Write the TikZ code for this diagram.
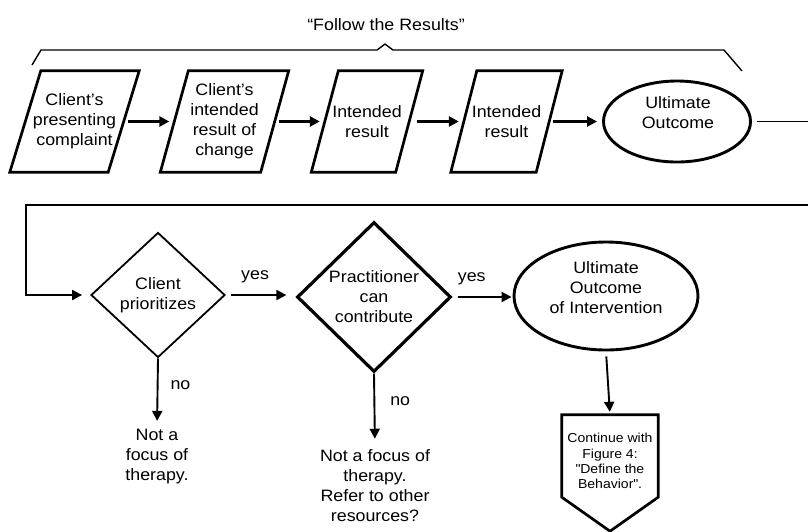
\documentclass[tikz,border=0pt]{standalone}
\usepackage{fontspec}
\setmainfont{Liberation Sans}[FakeStretch=1.08]
\usetikzlibrary{shapes.geometric,arrows.meta,calc}

\begin{document}
\begin{tikzpicture}[x=1pt,y=-1pt,
  every node/.style={font=\fontsize{16.5}{20}\selectfont, align=center, inner sep=0pt},
  para/.style={minimum width=#1, minimum height=101},
  box/.style={line width=2.7pt, line join=miter},
  ell/.style={ellipse, draw, line width=2.9pt},
  dia/.style={diamond, draw, line join=miter},
  tip/.style={-{Triangle[length=10pt,width=10pt]}},
  flow/.style={tip, line width=2.7pt, shorten <=4pt, shorten >=5pt},
  link/.style={tip, line width=1.9pt},
  small/.style={font=\fontsize{13}{15.3}\selectfont}
]
\useasboundingbox (0,0) rectangle (808,531);
\clip (0,0) rectangle (808,531);

% heading and its brace
\node (title) at (386,25) {``Follow the Results''};
\draw[line width=1.4pt, line join=round]
  (32,65) -- (41,50) -- (377,50) -- (385,44) -- (393,50) -- (724,50) -- (742,71);

% top row: results chain
\node[para=98]  (p1) at (74.5,121.5) {Client’s\\presenting\\complaint};
\node[para=100] (p2) at (224.5,121.5) {Client’s\\intended\\result of\\change};
\node[para=84]  (p3) at (367,121.5) {Intended\\result};
\node[para=85]  (p4) at (506.5,121.5) {Intended\\result};
\foreach \n/\s in {p1/15.5,p2/14,p3/13.5,p4/13}
  \draw[box] ([xshift=\s pt]\n.north west) -- ([xshift=\s pt]\n.north east)
    -- ([xshift=-\s pt]\n.south east) -- ([xshift=-\s pt]\n.south west) -- cycle;

\node[ell, minimum width=147, minimum height=81] (u1) at (677,121.5) {};
\node (u1text) at (678,113) {Ultimate\\Outcome};

\draw[flow] (p1) -- (p2);
\draw[flow] (p2) -- (p3);
\draw[flow, shorten <=8pt] (p3) -- (p4);
\draw[flow] (p4) -- (u1);

% decisions
\node[dia, line width=1.8pt, minimum width=134, minimum height=125] (d1) at (158,295) {Client\\prioritizes};
\node[dia, line width=3.2pt, minimum width=154, minimum height=150] (d2) at (374,297) {Practitioner\\can\\contribute};

\node[ell, minimum width=184, minimum height=108] (u2) at (606,296) {};
\node (u2text) at (606,288) {Ultimate\\Outcome\\of Intervention};

% loop from the first outcome back to the first decision
\coordinate (r1) at (840,121.5);
\coordinate (r2) at (840,205);
\coordinate (l1) at (26,205);
\draw[link, shorten <=5pt, shorten >=8pt] (u1.east) -- (r1) -- (r2) -- (l1) |- (d1.west);

\draw[link, shorten <=5pt, shorten >=9pt] (d1.east) -- node[pos=0.42, above=11pt] (yes1) {yes} (d1.east -| d2.west);
\draw[link, line width=2pt, shorten <=5pt, shorten >=1pt] (d2.east) -- node[pos=0.32, above=11pt] (yes2) {yes} (d2.east -| u2.west);

% dead ends
\node (n1) at (157,456.5) {Not a\\focus of\\therapy.};
\node (n2) at (375,486) {Not a focus of\\therapy.\\Refer to other\\resources?};
\draw[link, shorten >=8pt] (d1.south) -- node[pos=0.38, right=12pt] (no1) {no} (n1.north);
\draw[link, shorten >=11pt] (d2.south) -- node[pos=0.36, right=15pt] (no2) {no} (n2.north);

% off-page continuation
\node[minimum width=96, minimum height=82] (cont) at (610,456) {};
\draw[box] (cont.south west) -- (cont.north west) -- (cont.north east) -- (cont.south east)
  -- ($(cont.south)+(0,34)$) -- cycle;
\node[small] (conttext) at (610,461) {Continue with\\Figure 4:\\\textquotedbl Define the\\Behavior\textquotedbl.};
\draw[link, shorten <=5pt, shorten >=3pt] (u2.south) -- (cont.north);
\end{tikzpicture}
\end{document}
